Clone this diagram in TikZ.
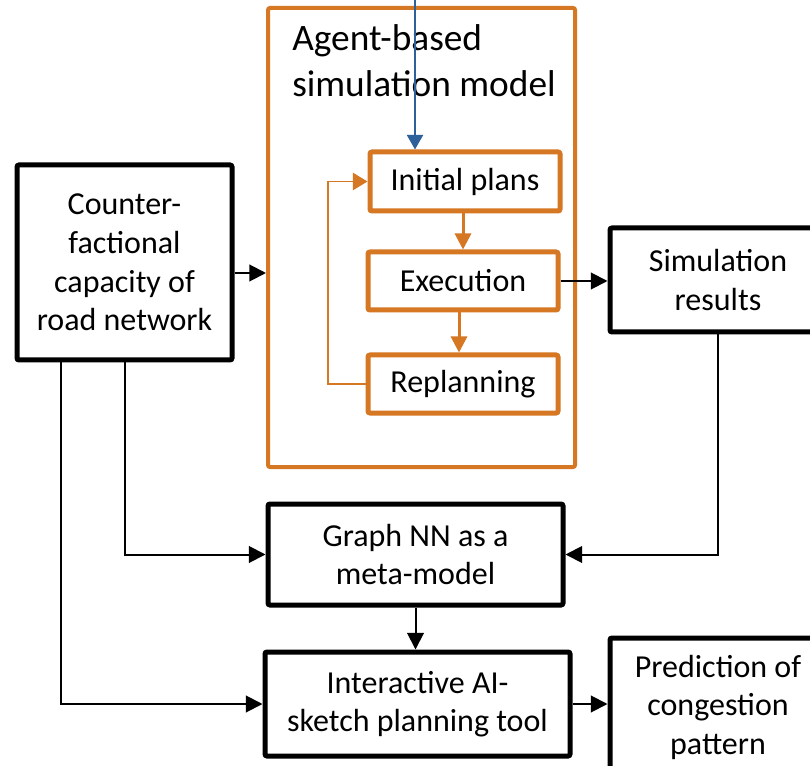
\documentclass[tikz,border=0pt]{standalone}
\usepackage{fontspec}
\setmainfont{Carlito}
\usetikzlibrary{arrows.meta}
\definecolor{abmorange}{RGB}{214,119,35}
\definecolor{inblue}{RGB}{46,96,153}
\begin{document}
\begin{tikzpicture}[x=0.75pt,y=-0.75pt,
  box/.style={draw=black,line width=3.75pt,rounded corners=1.5pt,fill=white,align=center,
    inner sep=0pt,font=\fontsize{24}{28.9}\selectfont},
  obox/.style={box,draw=abmorange},
  arr/.style={line width=1.5pt,-{Triangle[length=12.5pt,width=12.5pt]}},
  oarr/.style={draw=abmorange,fill=abmorange,line width=2.25pt,-{Triangle[length=12pt,width=12pt]}},
  loop/.style={draw=abmorange,line width=1.2pt,-{Triangle[length=11pt,width=13pt]}},
  barr/.style={draw=inblue,line width=1.9pt,-{Triangle[length=11pt,width=12pt]}}]
\useasboundingbox (0,0) rectangle (810,766);
\clip (0,0) rectangle (810,766);
\fill[white] (0,0) rectangle (810,766);
% big orange box
\node[draw=abmorange,line width=3pt,rounded corners=1.5pt,minimum width=230.25pt,minimum height=344.25pt,inner sep=0pt] (abm) at (421.5,237.5) {};
\node[anchor=north west,inner sep=0pt,align=left,font=\fontsize{28}{35}\selectfont] (title) at (292,24) {Agent-based\\simulation model};
% inner boxes
\node[obox,minimum width=142.5pt,minimum height=44.25pt] (init) at (465,181.5) {Initial plans};
\node[obox,minimum width=142.5pt,minimum height=43.5pt] (exec) at (463,281) {Execution};
\node[obox,minimum width=142.5pt,minimum height=43.5pt] (rep) at (463,384) {Replanning};
% black boxes
\node[box,minimum width=161.25pt,minimum height=146.25pt] (left) at (124.5,262.5) {Counter-\\factional\\capacity of\\road network};
\node[box,minimum width=162pt,minimum height=78pt] (sim) at (718,280) {Simulation\\results};
\node[box,minimum width=221.25pt,minimum height=75.75pt] (graph) at (415.5,554.5) {Graph NN as a\\meta-model};
\node[box,minimum width=228.75pt,minimum height=78pt] (inter) at (417.5,704) {Interactive AI-\\sketch planning tool};
\node[box,minimum width=162pt,minimum height=103.5pt] (pred) at (718,707) {Prediction of\\congestion\\pattern};
% helper coordinates
\coordinate (ya) at (0,273);
\coordinate (topin) at (415,0);
\coordinate (xr) at (459,0);
\coordinate (xl) at (328,0);
\coordinate (xa) at (125,0);
\coordinate (xb) at (61,0);
% connectors
\draw[barr] (topin) -- (topin |- init.north);
\draw[oarr] (exec.north |- init.south) -- (exec.north);
\draw[oarr] (xr |- exec.south) -- (xr |- rep.north);
\draw[loop] (rep.west) -- (xl |- rep.west) |- (init.west);
\draw[arr] (left.east |- ya) -- (abm.west |- ya);
\draw[arr] (exec.east) -- (sim.west |- exec.east);
\draw[arr] (xa |- left.south) |- (graph.west);
\draw[arr] (xb |- left.south) |- (inter.west);
\draw[arr] (sim.south) |- (graph.east);
\draw[arr] (graph.south) -- (graph.south |- inter.north);
\draw[arr] (inter.east) -- (pred.west |- inter.east);
\end{tikzpicture}
\end{document}
